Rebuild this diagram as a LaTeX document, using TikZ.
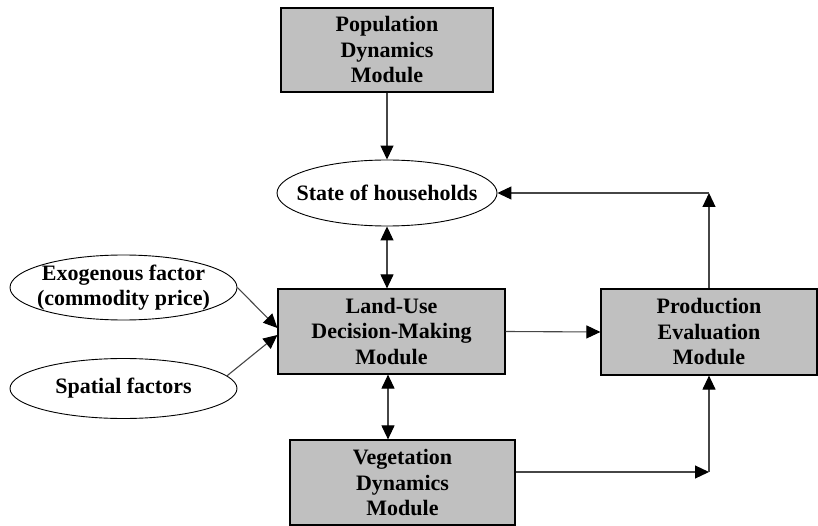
\documentclass[tikz,border=0pt]{standalone}
\usepackage{fontspec}
\setmainfont{Liberation Serif}
\usetikzlibrary{arrows.meta,calc,shapes.geometric}
\begin{document}
\begin{tikzpicture}[x=1pt,y=-1pt,
  every node/.style={font=\bfseries\fontsize{22}{25.5}\selectfont, align=center, inner sep=0pt},
  modbox/.style={rectangle, draw=black, line width=1.2pt, fill={rgb,255:red,192;green,192;blue,192}},
  oval/.style={ellipse, draw=black, line width=0.9pt, fill=white, inner sep=-25pt},
  arr/.style={draw={rgb,255:red,70;green,70;blue,70}, line width=1.1pt, -{Triangle[length=14pt,width=13pt,color=black]}},
  darr/.style={draw={rgb,255:red,70;green,70;blue,70}, line width=1.1pt, {Triangle[length=14pt,width=13pt,color=black]}-{Triangle[length=14pt,width=13pt,color=black]}}]
\useasboundingbox (0,0) rectangle (818,526);
\node[modbox, minimum width=212pt, minimum height=84pt] (pop) at (387,50) {Population\\Dynamics\\Module};
\node[oval, minimum width=220pt, minimum height=66pt] (hh) at (387,193) {State of households};
\node[modbox, minimum width=227pt, minimum height=85pt] (lu) at (391.5,331.5) {Land-Use\\Decision-Making\\Module};
\node[modbox, minimum width=225pt, minimum height=85pt] (veg) at (402.5,482.5) {Vegetation\\Dynamics\\Module};
\node[modbox, minimum width=216pt, minimum height=86pt] (prod) at (709,332) {Production\\Evaluation\\Module};
\node[oval, minimum width=227pt, minimum height=65pt] (exo) at (123.5,287.5) {Exogenous factor\\(commodity price)};
\node[oval, minimum width=227pt, minimum height=60pt] (spa) at (123.5,388.5) {Spatial factors};
\coordinate (c1) at (prod.north |- hh.east);
\coordinate (c2) at (709,472);
\draw[arr] (pop.south) -- (hh.north);
\draw[darr] (hh.south) -- (hh.south |- lu.north);
\draw[darr] ([xshift=-3.5pt]lu.south) -- ([xshift=-3.5pt]lu.south |- veg.north);
\draw[arr] (lu.east) -- (prod.west);
\draw[arr] (prod.north) -- (c1);
\draw[arr] (c1) -- (hh.east);
\draw[arr] (veg.east |- c2) -- (c2);
\draw[arr] (c2) -- (prod.south);
\draw[arr] (exo.east) -- ($(lu.west)+(0,-3.5)$);
\draw[arr] (spa.7) -- ($(lu.west)+(0,3.5)$);
\end{tikzpicture}
\end{document}
